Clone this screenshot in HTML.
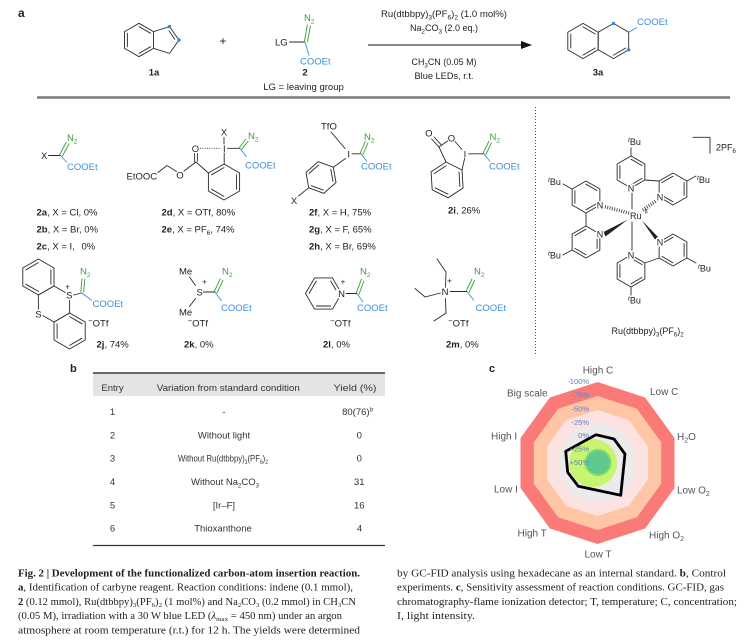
<!DOCTYPE html>
<html><head><meta charset="utf-8">
<style>
html,body{margin:0;padding:0;background:#fff;}
svg{display:block;}
text{font-family:"Liberation Sans",Arial,sans-serif;fill:#222;}
.b{stroke:#2a2a2a;stroke-width:0.9;fill:none;stroke-linecap:round;}
.g{stroke:#3b9e3b;stroke-width:0.9;fill:none;}
.bl{stroke:#3c8fd9;stroke-width:0.9;fill:none;}
.s{font-size:9.5px;}
.n{font-size:9px;}
.gt{fill:#3b9e3b;}
.bt{fill:#3c8fd9;}
.h{stroke:#fff;stroke-width:3px;paint-order:stroke;stroke-linejoin:round;}
.cap{font-family:"Liberation Serif",serif;font-size:10px;fill:#222;}
.tb{font-size:9.5px;fill:#333;}
.rl{font-size:10px;fill:#555;}
.pc{font-size:7.5px;fill:#5b82c6;}
</style></head><body>
<svg width="754" height="644" viewBox="0 0 754 644" xmlns="http://www.w3.org/2000/svg">
<defs>
<g id="hexA"><polygon class="b" points="0,-16 13.86,-8 13.86,8 0,16 -13.86,8 -13.86,-8"/><path class="b" d="M0,-12.8L11.09,-6.4 M11.09,6.4L0,12.8 M-11.09,6.4L-11.09,-6.4"/></g>
<g id="hexB"><polygon class="b" points="0,-16 13.86,-8 13.86,8 0,16 -13.86,8 -13.86,-8"/><path class="b" d="M11.09,-6.4L11.09,6.4 M0,12.8L-11.09,6.4 M-11.09,-6.4L0,-12.8"/></g>
</defs>

<!-- ===== a: reaction ===== -->
<text x="18" y="17" font-weight="bold" font-size="12">a</text>
<polygon class="b" points="139,23.3 153.5,31.65 153.5,48.35 139,56.7 124.5,48.35 124.5,31.65"/>
<path class="b" d="M127.4,46.7L127.4,33.3 M139,26.6L150.6,33.3 M150.6,46.7L139,53.4"/>
<path class="b" d="M153.5,31.65L169.5,26.6L179,40L169.5,53.4L153.5,48.35 M169,30.8L174.8,39.2"/>
<circle cx="169.5" cy="26.6" r="1.7" fill="#2e8be0"/>
<circle cx="179" cy="40" r="1.7" fill="#2e8be0"/>
<text x="154" y="75.5" text-anchor="middle" font-weight="bold" class="s">1a</text>
<text x="223" y="45" text-anchor="middle" font-size="12">+</text>
<text x="275" y="45.5" class="s">LG</text>
<path class="b" d="M289.5,42H305"/>
<path class="g" d="M304.5,41L307.5,24.5 M307.5,42L310.5,25.5"/>
<text x="304" y="21" class="s gt">N<tspan font-size="6.5" dy="2.5">2</tspan></text>
<path class="bl" d="M305,42L309,55.5"/>
<text x="300" y="64.5" class="s bt">COOEt</text>
<text x="305" y="75.5" text-anchor="middle" font-weight="bold" class="s">2</text>
<text x="303.5" y="90" text-anchor="middle" class="s">LG = leaving group</text>
<path d="M368,45H524" stroke="#111" stroke-width="1.1"/>
<polygon points="532,45 521,41 521,49" fill="#111"/>
<text x="444" y="17" text-anchor="middle" class="s" textLength="126" lengthAdjust="spacingAndGlyphs">Ru(dtbbpy)<tspan font-size="6.5" dy="2.5">3</tspan><tspan dy="-2.5">(PF</tspan><tspan font-size="6.5" dy="2.5">6</tspan><tspan dy="-2.5">)</tspan><tspan font-size="6.5" dy="2.5">2</tspan><tspan dy="-2.5"> (1.0 mol%)</tspan></text>
<text x="444" y="31" text-anchor="middle" class="s" textLength="68" lengthAdjust="spacingAndGlyphs">Na<tspan font-size="6.5" dy="2.5">2</tspan><tspan dy="-2.5">CO</tspan><tspan font-size="6.5" dy="2.5">3</tspan><tspan dy="-2.5"> (2.0 eq.)</tspan></text>
<text x="444" y="65" text-anchor="middle" class="s" textLength="65" lengthAdjust="spacingAndGlyphs">CH<tspan font-size="6.5" dy="2.5">3</tspan><tspan dy="-2.5">CN (0.05 M)</tspan></text>
<text x="444" y="79" text-anchor="middle" class="s" textLength="59" lengthAdjust="spacingAndGlyphs">Blue LEDs, r.t.</text>
<polygon class="b" points="583,23.4 598.2,32.2 598.2,49.8 583,58.6 567.8,49.8 567.8,32.2"/>
<polygon class="b" points="613.5,23.4 628.7,32.2 628.7,49.8 613.5,58.6 598.2,49.8 598.2,32.2"/>
<path class="b" d="M570.8,48L570.8,34 M583,26.9L595.2,34 M595.2,48L583,55.1 M613.5,55.1L625.7,48"/>
<circle cx="613.5" cy="23.4" r="1.7" fill="#2e8be0"/>
<circle cx="628.7" cy="49.8" r="1.7" fill="#2e8be0"/>
<path class="bl" d="M628.7,32.2L637,27.4"/>
<text x="637" y="25" class="s bt">COOEt</text>
<text x="598" y="75.5" text-anchor="middle" font-weight="bold" class="s">3a</text>
<path d="M37,97.5H730" stroke="#7a7a7a" stroke-width="2.5"/>

<!-- ===== row 1 reagents ===== -->
<text x="41" y="159" class="s">X</text>
<path class="b" d="M48.5,155.5H60.5"/>
<path class="g" d="M59.6,154.8L66.4,142 M62.4,156.2L69.2,143.4"/>
<text x="67" y="141" class="s gt">N<tspan font-size="6.5" dy="2.5">2</tspan></text>
<path class="bl" d="M60.5,155.5L67,162.5"/>
<text x="67" y="170" class="s bt">COOEt</text>
<text x="36.5" y="215.5" class="s"><tspan font-weight="bold">2a</tspan>, X = Cl, 0%</text>
<text x="36.5" y="232.5" class="s"><tspan font-weight="bold">2b</tspan>, X = Br, 0%</text>
<text x="36.5" y="249.5" class="s"><tspan font-weight="bold">2c</tspan>, X = I,</text>
<text x="81.5" y="249.5" class="s">0%</text>
<text x="224" y="135.5" text-anchor="middle" class="s">X</text>
<path class="b" d="M224,137.5V144"/>
<text x="224.3" y="151.8" text-anchor="middle" class="s">I</text>
<path d="M200,148.3H221" stroke="#333" stroke-width="0.9" stroke-dasharray="1,1.3"/>
<text x="195.5" y="151.8" text-anchor="middle" class="s">O</text>
<path class="b" d="M194.6,153.5V162 M197.4,153.5V161"/>
<path class="b" d="M158,172.5L167,165.5L176.5,171.5 M184,171L196,162L208.4,173"/>
<text x="180" y="178.5" text-anchor="middle" class="s">O</text>
<text x="126.5" y="179.5" class="s">EtOOC</text>
<polygon class="b" points="224,164 239.6,173 239.6,191 224,200 208.4,191 208.4,173"/>
<path class="b" d="M236.5,174.8V189.2 M224,196.4L211.5,189.2 M211.5,174.8L224,167.6"/>
<path class="b" d="M224.2,153V164 M227.5,148.3H240"/>
<path class="g" d="M239.3,147.6L246,139 M241.7,149.4L248.4,140.8"/>
<text x="248" y="139" class="s gt">N<tspan font-size="6.5" dy="2.5">2</tspan></text>
<path class="bl" d="M240,148.3L246.5,157"/>
<text x="245" y="168.5" class="s bt">COOEt</text>
<text x="161.5" y="215.5" class="s"><tspan font-weight="bold">2d</tspan>, X = OTf, 80%</text>
<text x="161.5" y="232.5" class="s"><tspan font-weight="bold">2e</tspan>, X = PF<tspan font-size="6.5" dy="2.5">6</tspan><tspan dy="-2.5">, 74%</tspan></text>
<text x="321" y="129.5" class="s">TfO</text>
<path class="b" d="M331,132L345,148.5"/>
<text x="348.7" y="157.3" text-anchor="middle" class="s">I</text>
<path class="b" d="M352,153.8H361"/>
<path class="g" d="M360.2,153.1L365.5,141 M362.8,154.7L368.1,142.6"/>
<text x="364" y="140" class="s gt">N<tspan font-size="6.5" dy="2.5">2</tspan></text>
<path class="bl" d="M361,153.8L367,161.5"/>
<text x="361" y="169.5" class="s bt">COOEt</text>
<polygon class="b" points="333.3,167.2 336,182.5 323.8,193.3 308.7,187.8 306,172.5 318.2,161.7"/>
<path class="b" d="M330.8,169.3L333,181.5 M323.2,190.1L311.2,185.7 M309,173.5L318.8,164.9"/>
<path class="b" d="M333.3,167.2L345.5,158.5 M308.7,187.8L298.5,196"/>
<text x="294" y="204" text-anchor="middle" class="s">X</text>
<text x="309" y="215.5" class="s"><tspan font-weight="bold">2f</tspan>,  X = H, 75%</text>
<text x="309" y="232.5" class="s"><tspan font-weight="bold">2g</tspan>,  X = F, 65%</text>
<text x="309" y="249.5" class="s"><tspan font-weight="bold">2h</tspan>, X = Br, 69%</text>
<text x="428.8" y="136.5" text-anchor="middle" class="s">O</text>
<path class="b" d="M438.6,146.6L431.6,139 M441,144.6L434,137"/>
<path class="b" d="M439,147L447.5,141"/>
<text x="451.5" y="141.5" text-anchor="middle" class="s">O</text>
<path class="b" d="M455,141.5L462,149.5"/>
<text x="465" y="157.3" text-anchor="middle" class="s">I</text>
<path class="b" d="M468.5,153.8H484"/>
<path class="g" d="M483.2,153.1L489,141 M485.8,154.7L491.6,142.6"/>
<text x="489.5" y="140" class="s gt">N<tspan font-size="6.5" dy="2.5">2</tspan></text>
<path class="bl" d="M484,153.8L490,161.5"/>
<text x="489" y="169.5" class="s bt">COOEt</text>
<path class="b" d="M464.6,158.5L462,170 M439,147L446,162"/>
<polygon class="b" points="446,162 462,170 463.1,187.9 448.2,197.8 432.2,189.8 431.1,171.9"/>
<path class="b" d="M459,172L459.9,186.3 M448,194.2L435.2,187.8 M434.3,173.5L446.2,165.6"/>
<text x="448" y="213.5" class="s"><tspan font-weight="bold">2i</tspan>, 26%</text>

<path d="M535.5,107V356" stroke="#444" stroke-width="1" stroke-dasharray="1,2"/>

<!-- ===== row 2 ===== -->
<polygon class="b" points="38.4,259 54,268 54,286 38.4,295 22.8,286 22.8,268"/>
<path class="b" d="M50.9,269.8V284.2 M38.4,262.6L25.9,269.8 M25.9,284.2L38.4,291.4"/>
<polygon class="b" points="54,286 69.6,295 69.6,313 54,322 38.4,313 38.4,295"/>
<polygon class="b" points="69.6,313 85.2,322 85.2,340 69.6,349 54,340 54,322"/>
<path class="b" d="M57.1,323.8V338.2 M69.6,345.4L82.1,338.2 M82.1,323.8L69.6,316.6"/>
<text x="69.3" y="298.5" text-anchor="middle" class="s h">S</text>
<text x="67.5" y="289.5" text-anchor="middle" font-size="8">+</text>
<text x="38.4" y="317.5" text-anchor="middle" class="s h">S</text>
<path class="b" d="M73.5,295L81.6,293"/>
<path class="g" d="M80.8,292L82,278.5 M83.6,292.5L84.8,279"/>
<text x="80" y="274.5" class="s gt">N<tspan font-size="6.5" dy="2.5">2</tspan></text>
<path class="bl" d="M81.6,293L92,300.5"/>
<text x="92.5" y="306.8" class="s bt">COOEt</text>
<text x="88" y="326.5" class="s"><tspan font-size="8" dy="-3">−</tspan><tspan dy="3">OTf</tspan></text>
<text x="96.5" y="347.5" class="s"><tspan font-weight="bold">2j</tspan>, 74%</text>
<text x="179" y="274.5" class="s">Me</text>
<path class="b" d="M189.5,277L195.5,285.5 M195.5,298.5L189.5,306.5 M203.5,292H215"/>
<text x="199.6" y="295.5" text-anchor="middle" class="s">S</text>
<text x="204.5" y="284.5" text-anchor="middle" font-size="8">+</text>
<text x="179" y="315.5" class="s">Me</text>
<path class="g" d="M214.3,291.4L220.5,278.5 M216.9,293L223.1,280"/>
<text x="222" y="274.5" class="s gt">N<tspan font-size="6.5" dy="2.5">2</tspan></text>
<path class="bl" d="M215,292L221.5,301"/>
<text x="221" y="311" class="s bt">COOEt</text>
<text x="187.5" y="326.5" class="s"><tspan font-size="8" dy="-3">−</tspan><tspan dy="3">OTf</tspan></text>
<text x="184" y="347.5" class="s"><tspan font-weight="bold">2k</tspan>, 0%</text>
<polygon class="b" points="341.5,293.5 332.5,309.1 314.5,309.1 305.5,293.5 314.5,277.9 332.5,277.9"/>
<path class="b" d="M330.7,306H316.3 M309.1,293.5L316.3,281 M330.7,281L336,290"/>
<text x="341.5" y="297" text-anchor="middle" class="s h">N</text>
<text x="343" y="284.5" text-anchor="middle" font-size="8">+</text>
<path class="b" d="M346,293.5H357"/>
<path class="g" d="M356.3,292.8L361.5,279 M358.9,294.4L364.1,280.6"/>
<text x="360" y="274.5" class="s gt">N<tspan font-size="6.5" dy="2.5">2</tspan></text>
<path class="bl" d="M357,293.5L363,302"/>
<text x="357" y="311" class="s bt">COOEt</text>
<text x="330" y="326.5" class="s"><tspan font-size="8" dy="-3">−</tspan><tspan dy="3">OTf</tspan></text>
<text x="323" y="347.5" class="s"><tspan font-weight="bold">2l</tspan>, 0%</text>
<path class="b" d="M445.5,287.5L446,272L437,259 M440.5,293L425,297L415,288.5 M445.5,298.5L446,313L434,321"/>
<text x="445" y="295" text-anchor="middle" class="s h">N</text>
<text x="449.5" y="283.5" text-anchor="middle" font-size="8">+</text>
<path class="b" d="M450,291.5H467"/>
<path class="g" d="M466.3,290.8L472.2,278.5 M468.9,292.4L474.8,280"/>
<text x="474" y="274.5" class="s gt">N<tspan font-size="6.5" dy="2.5">2</tspan></text>
<path class="bl" d="M467,291.5L474,300.5"/>
<text x="475.5" y="311" class="s bt">COOEt</text>
<text x="448" y="326.5" class="s"><tspan font-size="8" dy="-3">−</tspan><tspan dy="3">OTf</tspan></text>
<text x="446" y="347.5" class="s"><tspan font-weight="bold">2m</tspan>, 0%</text>

<!-- ===== Ru complex ===== -->
<use href="#hexA" x="631" y="172"/>
<use href="#hexB" x="673" y="189"/>
<use href="#hexA" x="586" y="197"/>
<use href="#hexB" x="586" y="242"/>
<use href="#hexA" x="631" y="271"/>
<use href="#hexB" x="673" y="250"/>
<path class="b" d="M644.9,180L659.1,181 M586,213V226 M644.9,263L659.1,258"/>
<path class="b" d="M631,156V148 M686.9,181L696,176 M572.1,189L563,184 M572.1,250L563,255 M631,287V295 M686.9,258L696,263"/>
<path class="b" d="M632,193V209 M632,222V251"/>
<path d="M629,213L604,206.5" stroke="#333" stroke-width="3.5" stroke-dasharray="0.8,1.6"/>
<path d="M643,210L656,201" stroke="#333" stroke-width="3.5" stroke-dasharray="0.8,1.6"/>
<polygon points="628,219.5 603.5,232 605.5,236.5" fill="#222"/>
<polygon points="642,220.5 655,239.5 658,237" fill="#222"/>
<text x="631" y="191.5" text-anchor="middle" class="n h">N</text>
<text x="660" y="200.5" text-anchor="middle" class="n h">N</text>
<text x="600" y="208.5" text-anchor="middle" class="n h">N</text>
<text x="600" y="237.5" text-anchor="middle" class="n h">N</text>
<text x="631" y="258.5" text-anchor="middle" class="n h">N</text>
<text x="660" y="245.5" text-anchor="middle" class="n h">N</text>
<text x="630" y="219" class="n h">Ru</text>
<text x="644.5" y="213.5" font-size="6">II</text>
<text x="628" y="145" class="n"><tspan font-size="6.5" dy="-3" font-style="italic">t</tspan><tspan dy="3">Bu</tspan></text>
<text x="697" y="183" class="n"><tspan font-size="6.5" dy="-3" font-style="italic">t</tspan><tspan dy="3">Bu</tspan></text>
<text x="548" y="185" class="n"><tspan font-size="6.5" dy="-3" font-style="italic">t</tspan><tspan dy="3">Bu</tspan></text>
<text x="548" y="258.5" class="n"><tspan font-size="6.5" dy="-3" font-style="italic">t</tspan><tspan dy="3">Bu</tspan></text>
<text x="628" y="303.5" class="n"><tspan font-size="6.5" dy="-3" font-style="italic">t</tspan><tspan dy="3">Bu</tspan></text>
<text x="698" y="271.5" class="n"><tspan font-size="6.5" dy="-3" font-style="italic">t</tspan><tspan dy="3">Bu</tspan></text>
<path class="b" d="M693,137.3H710V153.3"/>
<text x="716" y="150.5" class="n">2PF<tspan font-size="6" dy="2.5">6</tspan></text>
<text x="647.5" y="334" text-anchor="middle" class="n">Ru(dtbbpy)<tspan font-size="6" dy="2.5">3</tspan><tspan dy="-2.5">(PF</tspan><tspan font-size="6" dy="2.5">6</tspan><tspan dy="-2.5">)</tspan><tspan font-size="6" dy="2.5">2</tspan></text>

<!-- ===== b: table ===== -->
<text x="70" y="372" font-weight="bold" font-size="11">b</text>
<rect x="93" y="373" width="292" height="23" fill="#e4e4e4"/>
<path d="M93,373H385" stroke="#555" stroke-width="1.8"/>
<path d="M93,545.5H385" stroke="#333" stroke-width="1.2"/>
<text x="112.5" y="391" text-anchor="middle" class="tb">Entry</text>
<text x="228.3" y="391" text-anchor="middle" class="tb" textLength="143" lengthAdjust="spacingAndGlyphs">Variation from standard condition</text>
<text x="355" y="391" text-anchor="middle" class="tb" textLength="43" lengthAdjust="spacingAndGlyphs">Yield (%)</text>
<text x="112.5" y="415" text-anchor="middle" class="tb">1</text>
<text x="224" y="415" text-anchor="middle" class="tb">-</text>
<text x="357.5" y="415" text-anchor="middle" class="tb">80(76)<tspan font-size="6" dy="-3.5" font-style="italic">b</tspan></text>
<text x="112.5" y="438.5" text-anchor="middle" class="tb">2</text>
<text x="224" y="438.5" text-anchor="middle" class="tb">Without light</text>
<text x="359.3" y="438.5" text-anchor="middle" class="tb">0</text>
<text x="112.5" y="461.5" text-anchor="middle" class="tb">3</text>
<text x="223" y="461.5" text-anchor="middle" class="tb" textLength="90" lengthAdjust="spacingAndGlyphs">Without Ru(dtbbpy)<tspan font-size="6" dy="2.5">3</tspan><tspan dy="-2.5">(PF</tspan><tspan font-size="6" dy="2.5">6</tspan><tspan dy="-2.5">)</tspan><tspan font-size="6" dy="2.5">2</tspan></text>
<text x="359.3" y="461.5" text-anchor="middle" class="tb">0</text>
<text x="112.5" y="485" text-anchor="middle" class="tb">4</text>
<text x="225" y="485" text-anchor="middle" class="tb">Without Na<tspan font-size="6" dy="2.5">2</tspan><tspan dy="-2.5">CO</tspan><tspan font-size="6" dy="2.5">3</tspan></text>
<text x="359.3" y="485" text-anchor="middle" class="tb">31</text>
<text x="112.5" y="508.5" text-anchor="middle" class="tb">5</text>
<text x="224" y="508.5" text-anchor="middle" class="tb">[Ir–F]</text>
<text x="359.3" y="508.5" text-anchor="middle" class="tb">16</text>
<text x="112.5" y="531.5" text-anchor="middle" class="tb">6</text>
<text x="223" y="531.5" text-anchor="middle" class="tb">Thioxanthone</text>
<text x="359.5" y="531.5" text-anchor="middle" class="tb">4</text>

<!-- ===== c: radar ===== -->
<text x="489" y="372" font-weight="bold" font-size="11">c</text>
<polygon fill="#fa7a78" points="597.5,382 645.1,397.5 674.5,438 674.5,488 645.1,528.5 597.5,544 549.9,528.5 520.5,488 520.5,438 549.9,397.5"/>
<polygon fill="#ffc6a6" points="597.5,396 636.9,408.8 661.2,442.3 661.2,483.7 636.9,517.2 597.5,530 558.1,517.2 533.8,483.7 533.8,442.3 558.1,408.8"/>
<polygon fill="#fde2e2" points="597.5,410 628.7,420.1 647.9,446.6 647.9,479.4 628.7,505.9 597.5,516 566.3,505.9 547.1,479.4 547.1,446.6 566.3,420.1"/>
<polygon fill="#ebebeb" points="597.5,423 621,430.6 635.5,450.6 635.5,475.4 621,495.4 597.5,503 574,495.4 559.5,475.4 559.5,450.6 574,430.6"/>
<circle cx="593" cy="463" r="24" fill="#c8f56f"/>
<circle cx="598" cy="462.5" r="12.5" fill="#5ec88e" stroke="#7bdc6b" stroke-width="2"/>
<polygon fill="none" stroke="#000" stroke-width="2.8" stroke-linejoin="round" points="596,434.7 614,439 625,454 620.7,495.3 578.3,486.3 567.7,472.3 565.7,451.3"/>
<text x="589" y="384" text-anchor="end" class="pc">-100%</text>
<text x="589" y="397.5" text-anchor="end" class="pc">-75%</text>
<text x="589" y="411.5" text-anchor="end" class="pc">-50%</text>
<text x="589" y="425" text-anchor="end" class="pc">-25%</text>
<text x="589" y="438" text-anchor="end" class="pc">0%</text>
<text x="589" y="451.7" text-anchor="end" class="pc">+25%</text>
<text x="589" y="465" text-anchor="end" class="pc">+50%</text>
<text x="598" y="373.5" text-anchor="middle" class="rl">High C</text>
<text x="650" y="395" class="rl">Low C</text>
<text x="677" y="440" class="rl">H<tspan font-size="7" dy="2.5">2</tspan><tspan dy="-2.5">O</tspan></text>
<text x="677" y="493.5" class="rl">Low O<tspan font-size="7" dy="2.5">2</tspan></text>
<text x="649" y="538.5" class="rl">High O<tspan font-size="7" dy="2.5">2</tspan></text>
<text x="598" y="557.5" text-anchor="middle" class="rl">Low T</text>
<text x="517.5" y="536.5" class="rl">High T</text>
<text x="494" y="492.5" class="rl">Low I</text>
<text x="491" y="439.5" class="rl">High I</text>
<text x="507" y="396.5" class="rl">Big scale</text>

<!-- ===== caption ===== -->
<text x="18" y="576.5" class="cap" font-weight="bold" textLength="342" lengthAdjust="spacingAndGlyphs">Fig. 2 | Development of the functionalized carbon-atom insertion reaction.</text>
<text x="18" y="590.5" class="cap" textLength="335" lengthAdjust="spacingAndGlyphs"><tspan font-weight="bold">a</tspan>, Identification of carbyne reagent. Reaction conditions: indene (0.1 mmol),</text>
<text x="18" y="605" class="cap" textLength="338" lengthAdjust="spacingAndGlyphs"><tspan font-weight="bold">2</tspan> (0.12 mmol), Ru(dtbbpy)<tspan font-size="6.5" dy="2">3</tspan><tspan dy="-2">(PF</tspan><tspan font-size="6.5" dy="2">6</tspan><tspan dy="-2">)</tspan><tspan font-size="6.5" dy="2">2</tspan><tspan dy="-2"> (1 mol%) and Na</tspan><tspan font-size="6.5" dy="2">2</tspan><tspan dy="-2">CO</tspan><tspan font-size="6.5" dy="2">3</tspan><tspan dy="-2"> (0.2 mmol) in CH</tspan><tspan font-size="6.5" dy="2">3</tspan><tspan dy="-2">CN</tspan></text>
<text x="18" y="619" class="cap" textLength="324" lengthAdjust="spacingAndGlyphs">(0.05 M), irradiation with a 30 W blue LED (<tspan font-style="italic">λ</tspan><tspan font-size="6.5" dy="2">max</tspan><tspan dy="-2"> = 450 nm) under an argon</tspan></text>
<text x="18" y="633.5" class="cap" textLength="342" lengthAdjust="spacingAndGlyphs">atmosphere at room temperature (r.t.) for 12 h. The yields were determined</text>
<text x="397" y="576.5" class="cap" textLength="329" lengthAdjust="spacingAndGlyphs">by GC-FID analysis using hexadecane as an internal standard. <tspan font-weight="bold">b</tspan>, Control</text>
<text x="397" y="590.5" class="cap" textLength="327" lengthAdjust="spacingAndGlyphs">experiments. <tspan font-weight="bold">c</tspan>, Sensitivity assessment of reaction conditions. GC-FID, gas</text>
<text x="397" y="605" class="cap" textLength="340" lengthAdjust="spacingAndGlyphs">chromatography-flame ionization detector; T, temperature; C, concentration;</text>
<text x="397" y="619" class="cap" textLength="78" lengthAdjust="spacingAndGlyphs">I, light intensity.</text>
</svg>
</body></html>
